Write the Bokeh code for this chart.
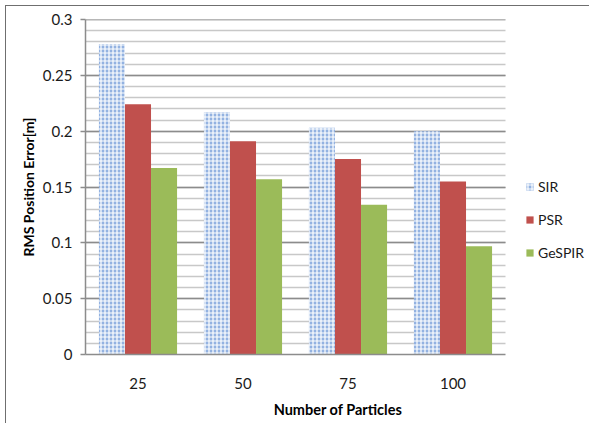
from bokeh.plotting import figure
from bokeh.models import (ColumnDataSource, Range1d, SingleIntervalTicker, FixedTicker,
                          Legend, LegendItem)
from bokeh.embed import file_html
from bokeh.resources import INLINE

# Data
particles = ["25", "50", "75", "100"]
sir = [0.278, 0.217, 0.203, 0.200]
psr = [0.224, 0.191, 0.175, 0.155]
gespir = [0.167, 0.157, 0.134, 0.097]

# category centres on a numeric axis (one unit per category)
centres = [i + 0.5 for i in range(len(particles))]
bw = 0.248
src = ColumnDataSource(dict(
    x_sir=[c - bw for c in centres], x_psr=centres, x_ge=[c + bw for c in centres],
    sir=sir, psr=psr, gespir=gespir))

FONT = "Lato"
TEXT = "#1a1a1a"
AXIS = "#8c8c8c"

p = figure(width=584, height=418, output_backend="svg", toolbar_location=None,
           x_range=Range1d(0, 505 / 105), y_range=Range1d(0, 0.3000001),
           min_border_left=79, min_border_right=0, min_border_top=13, min_border_bottom=70,
           margin=(5, 0, 0, 5))
p.styles = {"border-left": "1px solid #6f6f6f", "border-top": "1px solid #6f6f6f"}
p.outline_line_color = None
p.background_fill_color = "white"
p.border_fill_color = "white"

r_sir = p.vbar(x="x_sir", top="sir", width=bw, source=src,
               fill_color="#93b2e1", line_color=None,
               hatch_pattern="+", hatch_color="white", hatch_scale=4, hatch_weight=1.2)
r_psr = p.vbar(x="x_psr", top="psr", width=bw, source=src,
               fill_color="#c0504d", line_color=None)
r_ge = p.vbar(x="x_ge", top="gespir", width=bw, source=src,
              fill_color="#9bbb59", line_color=None)

# Grid: major every 0.05, minor every 0.01, only across the category area
p.xgrid.grid_line_color = None
p.ygrid.grid_line_color = AXIS
p.ygrid.grid_line_width = 1.5
p.ygrid.minor_grid_line_color = "#c8c8c8"
p.ygrid.minor_grid_line_width = 1.5
p.ygrid.cross_bounds = (0, len(particles))
p.ygrid.level = "underlay"

# Y axis
p.yaxis.ticker = SingleIntervalTicker(interval=0.05, num_minor_ticks=5)
p.yaxis.axis_line_color = AXIS
p.yaxis.axis_line_width = 1.5
p.yaxis.major_tick_line_color = AXIS
p.yaxis.major_tick_line_width = 1.5
p.yaxis.major_tick_out = 5
p.yaxis.major_tick_in = 0
p.yaxis.minor_tick_line_color = None
p.yaxis.major_label_text_font = FONT
p.yaxis.major_label_text_font_size = "15px"
p.yaxis.major_label_text_color = TEXT
p.yaxis.major_label_standoff = 8
p.yaxis.axis_label = "RMS Position Error[m]"
p.yaxis.axis_label_text_font = FONT
p.yaxis.axis_label_text_font_style = "bold"
p.yaxis.axis_label_text_font_size = "14px"
p.yaxis.axis_label_text_color = "black"
p.yaxis.axis_label_standoff = 3

# X axis
p.xaxis.ticker = FixedTicker(ticks=centres)
p.xaxis.major_label_overrides = {c: lab for c, lab in zip(centres, particles)}
p.xaxis.bounds = (0, len(particles))
p.xaxis.axis_line_color = AXIS
p.xaxis.axis_line_width = 1.5
p.xaxis.major_tick_line_color = None
p.xaxis.minor_tick_line_color = None
p.xaxis.major_label_text_font = FONT
p.xaxis.major_label_text_font_size = "15px"
p.xaxis.major_label_text_color = TEXT
p.xaxis.major_label_standoff = 17
p.xaxis.axis_label = "Number of Particles"
p.xaxis.axis_label_text_font = FONT
p.xaxis.axis_label_text_font_style = "bold"
p.xaxis.axis_label_text_font_size = "14.5px"
p.xaxis.axis_label_text_color = "black"
p.xaxis.axis_label_standoff = 9

# Legend to the right of the bars
legend = Legend(items=[LegendItem(label="SIR", renderers=[r_sir]),
                       LegendItem(label="PSR", renderers=[r_psr]),
                       LegendItem(label="GeSPIR", renderers=[r_ge])],
                location=(440, 92), padding=0, margin=0, spacing=13,
                glyph_width=9, glyph_height=9, label_height=20, label_standoff=4,
                border_line_color=None, background_fill_alpha=0,
                label_text_font=FONT, label_text_font_size="14px", label_text_color=TEXT)
p.add_layout(legend, "center")

open("out.html", "w").write(file_html(p, INLINE))
